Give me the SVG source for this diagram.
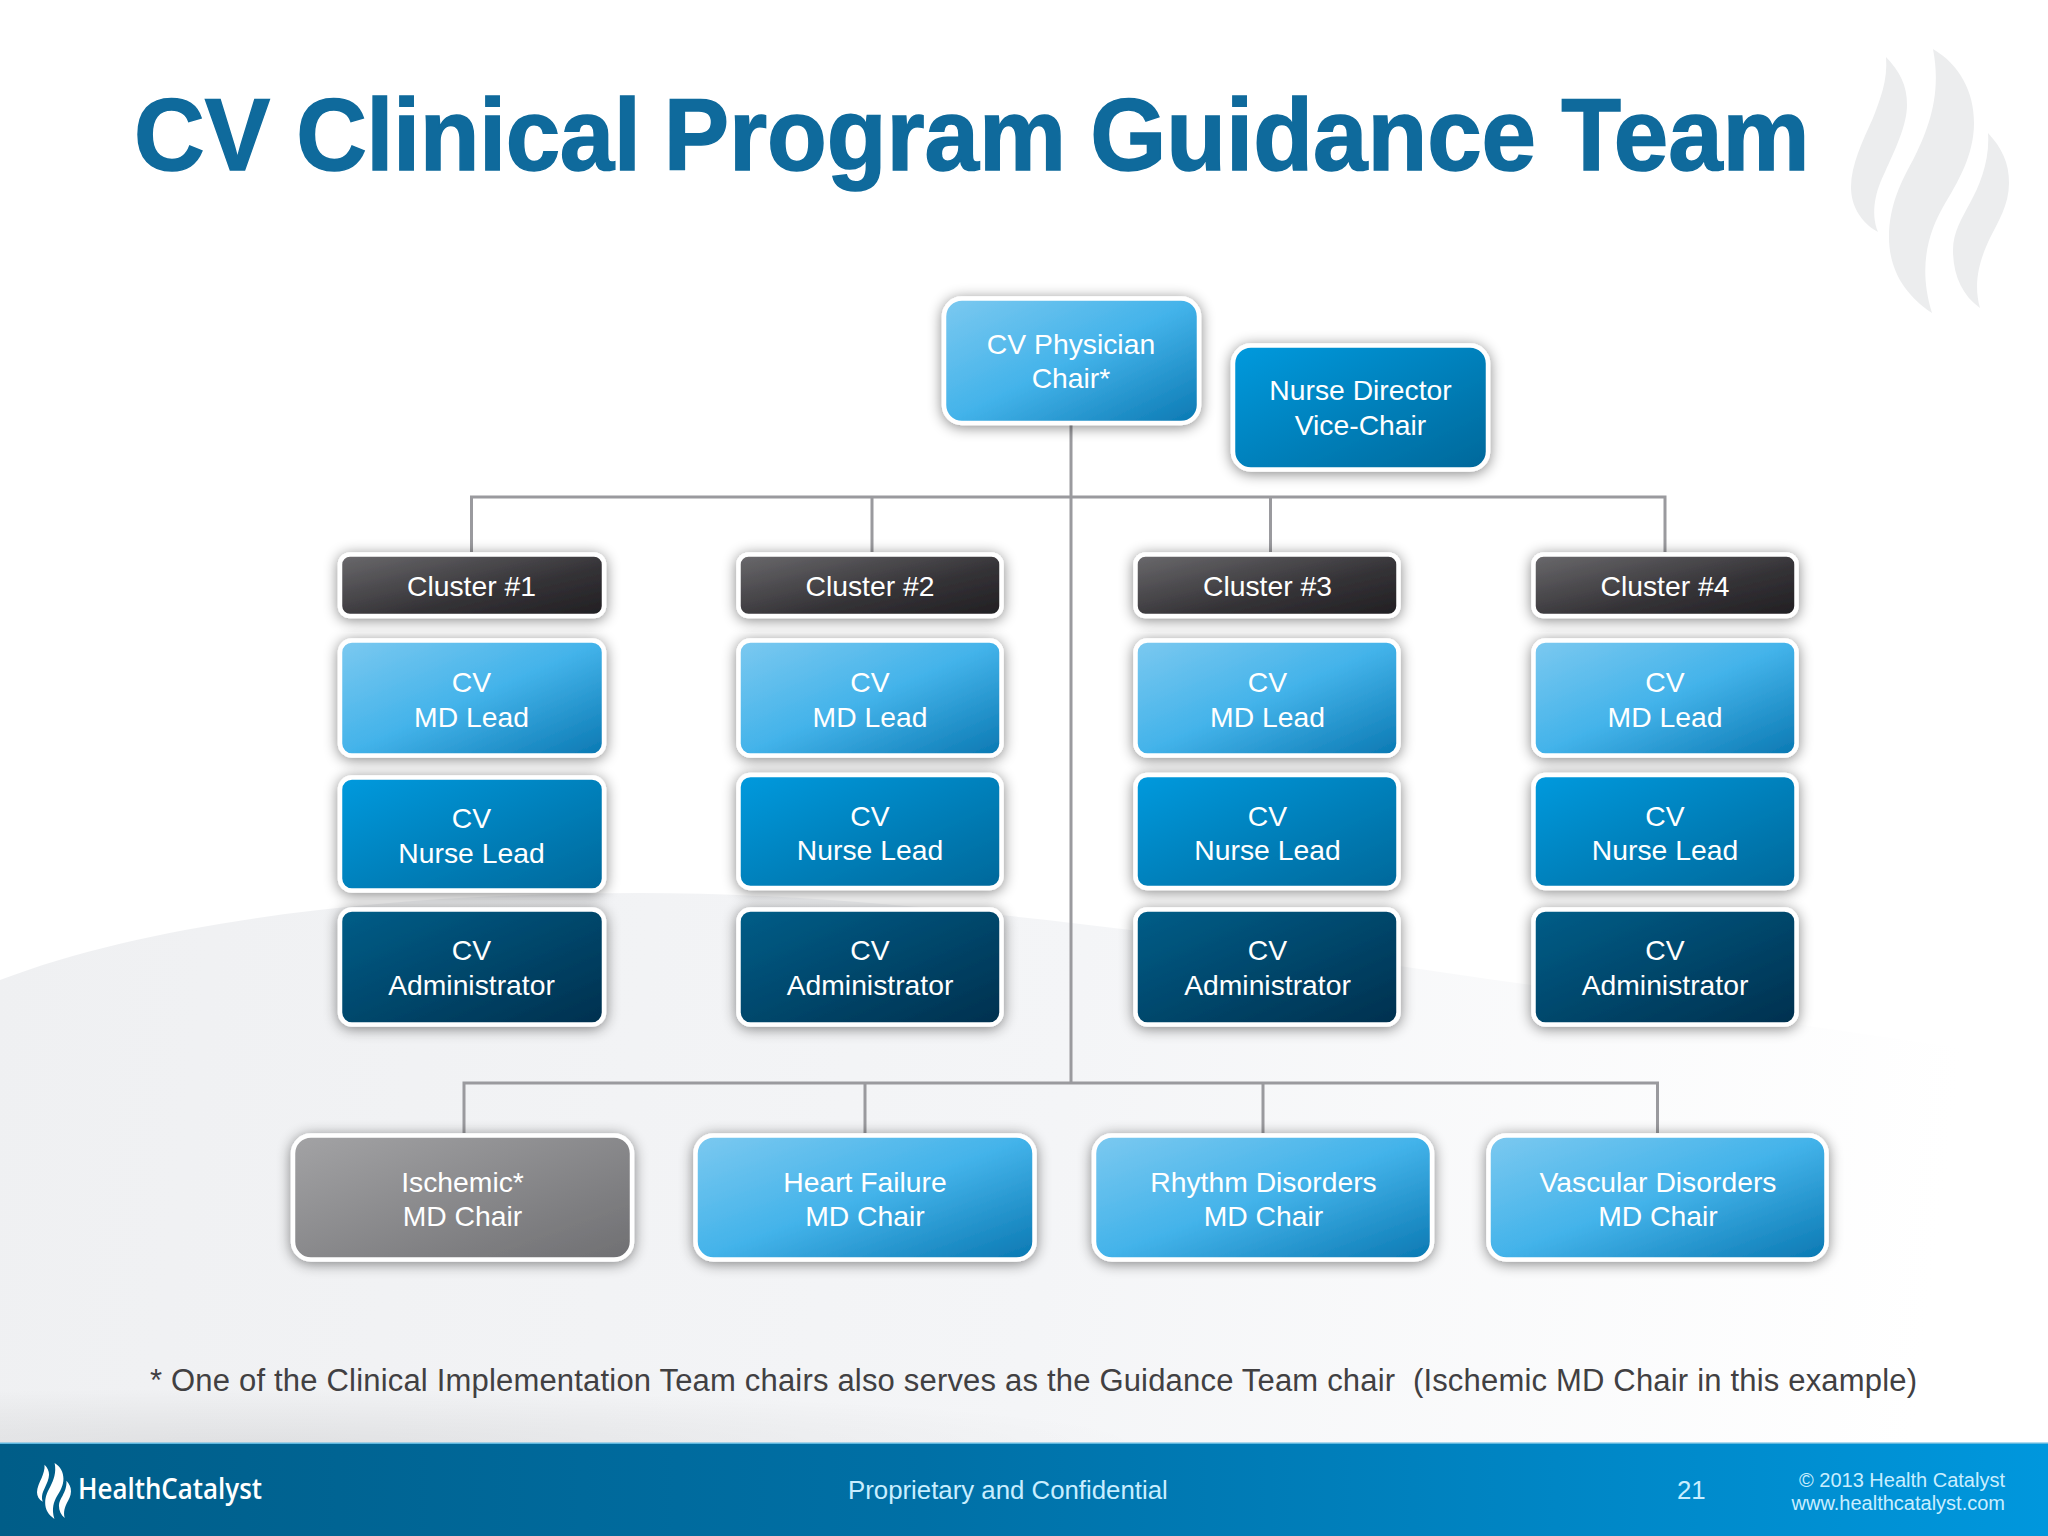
<svg xmlns="http://www.w3.org/2000/svg" xmlns:xlink="http://www.w3.org/1999/xlink" width="2048" height="1536" viewBox="0 0 2048 1536">
<style>
text{font-family:"Liberation Sans",Arial,sans-serif}
.b text{font-size:28.3px;fill:#fff;text-anchor:middle}
.b rect{stroke:#fff;stroke-width:4.5;filter:url(#sh)}
.c{fill:none;stroke:#9a9a9e;stroke-width:3}
.md rect{fill:url(#gMd)}.nu rect{fill:url(#gNu)}.ad rect{fill:url(#gAd)}.cl rect{fill:url(#gCl)}.gr rect{fill:url(#gGr)}
.f{fill:#c9eeff;font-size:25.8px}
</style>
<defs>
<linearGradient id="gMd" x1="0" y1="0" x2="1" y2="1"><stop offset="0" stop-color="#7cc9f0"/><stop offset=".5" stop-color="#43b3ea"/><stop offset="1" stop-color="#0a78b2"/></linearGradient>
<linearGradient id="gNu" x1="0" y1="0" x2="1" y2="1"><stop offset="0" stop-color="#009ade"/><stop offset="1" stop-color="#00689a"/></linearGradient>
<linearGradient id="gAd" x1="0" y1="0" x2="1" y2="1"><stop offset="0" stop-color="#005e89"/><stop offset="1" stop-color="#00304e"/></linearGradient>
<linearGradient id="gCl" x1="0" y1="0" x2="1" y2="1"><stop offset="0" stop-color="#6b6a6d"/><stop offset=".6" stop-color="#343236"/><stop offset="1" stop-color="#211f22"/></linearGradient>
<linearGradient id="gGr" x1="0" y1="0" x2="1" y2="1"><stop offset="0" stop-color="#a3a3a5"/><stop offset="1" stop-color="#6f6f72"/></linearGradient>
<linearGradient id="gFoot" x1="0" y1="0" x2="1" y2="0"><stop offset="0" stop-color="#005d88"/><stop offset=".45" stop-color="#0070a6"/><stop offset="1" stop-color="#0097dd"/></linearGradient>
<linearGradient id="gBg" gradientUnits="userSpaceOnUse" x1="0" y1="900" x2="1950" y2="1150"><stop offset="0" stop-color="#eff0f2"/><stop offset=".55" stop-color="#f4f5f7"/><stop offset="1" stop-color="#ffffff"/></linearGradient>
<radialGradient id="gShade" gradientUnits="userSpaceOnUse" cx="0" cy="0" r="1" gradientTransform="translate(250 1443) scale(900 55)"><stop offset="0" stop-color="#000" stop-opacity=".07"/><stop offset="1" stop-color="#000" stop-opacity="0"/></radialGradient>
<filter id="sh" x="-15%" y="-25%" width="130%" height="150%"><feDropShadow dx="0" dy="2" stdDeviation="7" flood-color="#000" flood-opacity=".48"/></filter>
<g id="flame">
<path d="M1886,57C1900,72 1907,85 1907,105C1907,125 1895,150 1885,172C1876,190 1870,212 1878,232C1860,222 1851,205 1851,187C1851,165 1863,140 1873,118C1880,100 1888,80 1886,57Z"/>
<path d="M1933,49C1960,65 1974,92 1974,123C1974,155 1958,182 1943,207C1930,230 1917,265 1932,313C1905,295 1889,270 1889,237C1889,205 1902,180 1913,160C1928,130 1942,95 1933,49Z"/>
<path d="M1988,133C2002,148 2009,163 2009,183C2009,205 1998,222 1990,238C1982,255 1972,280 1980,308C1962,295 1953,275 1953,250C1953,232 1962,218 1970,203C1980,185 1990,160 1988,133Z"/>
</g>
</defs>
<rect width="2048" height="1536" fill="#fff"/>
<path id="swoosh" d="M0,980C170,915 420,893 640,893C1000,893 1500,985 2048,1060V1443H0Z" fill="url(#gBg)"/>
<rect x="0" y="1385" width="1150" height="58" fill="url(#gShade)"/>
<use xlink:href="#flame" href="#flame" fill="#ecedee"/>
<text transform="translate(134,170) scale(.9595,1)" font-size="102" font-weight="700" fill="#0f6a9c" stroke="#0f6a9c" stroke-width="1.500"><tspan x="0">CV </tspan><tspan x="169" letter-spacing="-.5">Clinical </tspan><tspan x="552">Program </tspan><tspan x="996.500">Guidance </tspan><tspan x="1487.500">Team</tspan></text>
<g id="connectors" class="c">
<path class="c" d="M1071,425V1083"/>
<path class="c" d="M471.5,552V497H1665V552"/>
<path class="c" d="M872,497V552M1270.5,497V552"/>
<path class="c" d="M464,1133V1083H1657.5V1133"/>
<path class="c" d="M865,1083V1133M1263,1083V1133"/>
</g>
<g id="chair" class="b md"><rect x="944" y="298.500" width="255" height="124.500" rx="18"/><text x="1071" y="354">CV Physician</text><text x="1071" y="388">Chair*</text></g>
<g id="vice" class="b nu"><rect x="1233" y="345.500" width="255" height="124" rx="18"/><text x="1360.500" y="400">Nurse Director</text><text x="1360.500" y="434.500">Vice-Chair</text></g>

<g id="cluster1" class="b cl"><rect x="340" y="554.500" width="264" height="61.500" rx="10"/><text x="471.500" y="596">Cluster #1</text></g>
<g id="md1" class="b md"><rect x="340" y="640.500" width="264" height="115" rx="12"/><text x="471.500" y="692">CV</text><text x="471.500" y="726.500">MD Lead</text></g>
<g id="nurse1" class="b nu"><rect x="340" y="777.500" width="264" height="113" rx="12"/><text x="471.500" y="828">CV</text><text x="471.500" y="862.500">Nurse Lead</text></g>
<g id="admin1" class="b ad"><rect x="340" y="909.500" width="264" height="115" rx="12"/><text x="471.500" y="960">CV</text><text x="471.500" y="995">Administrator</text></g>

<g id="cluster2" class="b cl"><rect x="738.500" y="554.500" width="263" height="61.500" rx="10"/><text x="870" y="596">Cluster #2</text></g>
<g id="md2" class="b md"><rect x="738.500" y="640.500" width="263" height="115" rx="12"/><text x="870" y="692">CV</text><text x="870" y="726.500">MD Lead</text></g>
<g id="nurse2" class="b nu"><rect x="738.500" y="775" width="263" height="113" rx="12"/><text x="870" y="825.500">CV</text><text x="870" y="860">Nurse Lead</text></g>
<g id="admin2" class="b ad"><rect x="738.500" y="909.500" width="263" height="115" rx="12"/><text x="870" y="960">CV</text><text x="870" y="995">Administrator</text></g>

<g id="cluster3" class="b cl"><rect x="1135.500" y="554.500" width="263" height="61.500" rx="10"/><text x="1267.500" y="596">Cluster #3</text></g>
<g id="md3" class="b md"><rect x="1135.500" y="640.500" width="263" height="115" rx="12"/><text x="1267.500" y="692">CV</text><text x="1267.500" y="726.500">MD Lead</text></g>
<g id="nurse3" class="b nu"><rect x="1135.500" y="775" width="263" height="113" rx="12"/><text x="1267.500" y="825.500">CV</text><text x="1267.500" y="860">Nurse Lead</text></g>
<g id="admin3" class="b ad"><rect x="1135.500" y="909.500" width="263" height="115" rx="12"/><text x="1267.500" y="960">CV</text><text x="1267.500" y="995">Administrator</text></g>

<g id="cluster4" class="b cl"><rect x="1533.500" y="554.500" width="263" height="61.500" rx="10"/><text x="1665" y="596">Cluster #4</text></g>
<g id="md4" class="b md"><rect x="1533.500" y="640.500" width="263" height="115" rx="12"/><text x="1665" y="692">CV</text><text x="1665" y="726.500">MD Lead</text></g>
<g id="nurse4" class="b nu"><rect x="1533.500" y="775" width="263" height="113" rx="12"/><text x="1665" y="825.500">CV</text><text x="1665" y="860">Nurse Lead</text></g>
<g id="admin4" class="b ad"><rect x="1533.500" y="909.500" width="263" height="115" rx="12"/><text x="1665" y="960">CV</text><text x="1665" y="995">Administrator</text></g>

<g id="ischemic" class="b gr"><rect x="293" y="1135.500" width="339" height="124" rx="18"/><text x="462.500" y="1191.500">Ischemic*</text><text x="462.500" y="1225.500">MD Chair</text></g>
<g id="heart" class="b md"><rect x="695.500" y="1135.500" width="339" height="124" rx="18"/><text x="865" y="1191.500">Heart Failure</text><text x="865" y="1225.500">MD Chair</text></g>
<g id="rhythm" class="b md"><rect x="1094" y="1135.500" width="338" height="124" rx="18"/><text x="1263.500" y="1191.500">Rhythm Disorders</text><text x="1263.500" y="1225.500">MD Chair</text></g>
<g id="vascular" class="b md"><rect x="1488.500" y="1135.500" width="338" height="124" rx="18"/><text x="1658" y="1191.500">Vascular Disorders</text><text x="1658" y="1225.500">MD Chair</text></g>

<text x="150" y="1391" font-size="31" fill="#414042" textLength="1767" lengthAdjust="spacing" xml:space="preserve">* One of the Clinical Implementation Team chairs also serves as the Guidance Team chair  (Ischemic MD Chair in this example)</text>

<g id="footer">
<rect x="0" y="1443" width="2048" height="93" fill="url(#gFoot)"/>
<rect x="0" y="1442.500" width="2048" height="1.500" fill="#5fb8e0"/>
<use xlink:href="#flame" href="#flame" fill="#fff" transform="translate(37,1463) scale(.215,.212) translate(-1851,-49)"/>
<text x="78" y="1499" font-size="29" font-weight="600" fill="#fff" style="font-family:'Open Sans',sans-serif" textLength="184" lengthAdjust="spacingAndGlyphs">HealthCatalyst</text>
<text class="f" x="848" y="1499">Proprietary and Confidential</text>
<text class="f" x="1677" y="1499">21</text>
<text class="f" x="2005" y="1487" text-anchor="end" style="font-size:20px">© 2013 Health Catalyst</text>
<text class="f" x="2005" y="1510" text-anchor="end" style="font-size:20px">www.healthcatalyst.com</text>
</g>
</svg>
